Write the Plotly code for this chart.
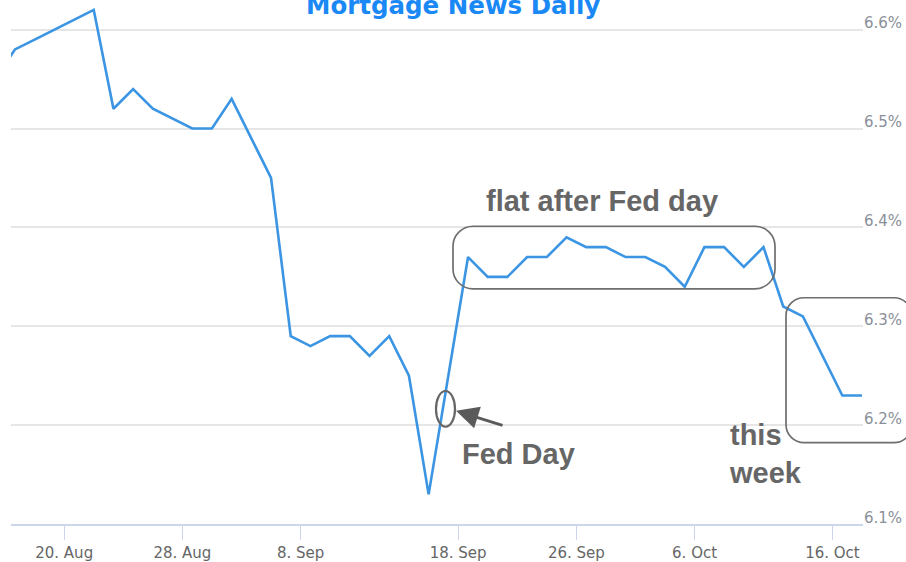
import pandas as pd
import plotly.graph_objects as go

# 30-year fixed rate, daily index (business days only)
dates = [
    "2025-08-14", "2025-08-15", "2025-08-18", "2025-08-19", "2025-08-20",
    "2025-08-21", "2025-08-22", "2025-08-25", "2025-08-26", "2025-08-27",
    "2025-08-28", "2025-08-29", "2025-09-02", "2025-09-03", "2025-09-04",
    "2025-09-05", "2025-09-08", "2025-09-09", "2025-09-10", "2025-09-11",
    "2025-09-12", "2025-09-15", "2025-09-16", "2025-09-17", "2025-09-18",
    "2025-09-19", "2025-09-22", "2025-09-23", "2025-09-24", "2025-09-25",
    "2025-09-26", "2025-09-29", "2025-09-30", "2025-10-01", "2025-10-02",
    "2025-10-03", "2025-10-06", "2025-10-07", "2025-10-08", "2025-10-09",
    "2025-10-10", "2025-10-14", "2025-10-15", "2025-10-16", "2025-10-17",
]
rates = [
    6.55, 6.58, 6.59, 6.60, 6.61,
    6.62, 6.52, 6.54, 6.52, 6.51,
    6.50, 6.50, 6.53, 6.49, 6.45,
    6.29, 6.28, 6.29, 6.29, 6.27,
    6.29, 6.25, 6.13, 6.25, 6.37,
    6.35, 6.35, 6.37, 6.37, 6.39,
    6.38, 6.38, 6.37, 6.37, 6.36,
    6.34, 6.38, 6.38, 6.36, 6.38,
    6.32, 6.31, 6.27, 6.23, 6.23,
]
holidays = ["2025-09-01", "2025-10-13"]

tick_dates = ["2025-08-20", "2025-08-28", "2025-09-08", "2025-09-18",
              "2025-09-26", "2025-10-06", "2025-10-16"]
tick_labels = ["20. Aug", "28. Aug", "8. Sep", "18. Sep", "26. Sep", "6. Oct", "16. Oct"]
y_ticks = [6.1, 6.2, 6.3, 6.4, 6.5, 6.6]
y_labels = ["6.1%", "6.2%", "6.3%", "6.4%", "6.5%", "6.6%"]

W, H = 906, 562
M_L, M_R, M_T, M_B = 11, 43, 0, 34
PW, PH = W - M_L - M_R, H - M_T - M_B

# each day's reading is stamped at midday
x = pd.to_datetime(dates) + pd.Timedelta(hours=12)


def px(v):
    return (v - M_L) / PW


def py(v):
    return (M_T + PH - v) / PH


def rounded_box(x0, y0, x1, y1, r):
    # rounded rectangle path in paper coordinates (pixel inputs)
    k = 0.5523 * r
    pts = [
        f"M{px(x0 + r)},{py(y0)}",
        f"L{px(x1 - r)},{py(y0)}",
        f"C{px(x1 - r + k)},{py(y0)} {px(x1)},{py(y0 + r - k)} {px(x1)},{py(y0 + r)}",
        f"L{px(x1)},{py(y1 - r)}",
        f"C{px(x1)},{py(y1 - r + k)} {px(x1 - r + k)},{py(y1)} {px(x1 - r)},{py(y1)}",
        f"L{px(x0 + r)},{py(y1)}",
        f"C{px(x0 + r - k)},{py(y1)} {px(x0)},{py(y1 - r + k)} {px(x0)},{py(y1 - r)}",
        f"L{px(x0)},{py(y0 + r)}",
        f"C{px(x0)},{py(y0 + r - k)} {px(x0 + r - k)},{py(y0)} {px(x0 + r)},{py(y0)}",
        "Z",
    ]
    return " ".join(pts)


fig = go.Figure()
fig.add_trace(go.Scatter(
    x=x, y=rates, mode="lines",
    line=dict(color="#3b95e3", width=2.6),
    hoverinfo="x+y",
))

box_style = dict(color="#6e6e6e", width=1.7)
shapes = [
    dict(type="path", xref="paper", yref="paper",
         path=rounded_box(453, 228, 775, 291, 20), line=box_style),
    dict(type="path", xref="paper", yref="paper",
         path=rounded_box(786, 300, 912, 446, 18), line=box_style),
    dict(type="circle", xref="paper", yref="paper",
         x0=px(436), x1=px(455), y0=py(394), y1=py(430),
         line=dict(color="#666666", width=2.2)),
]

note_font = dict(family="Liberation Sans, Arial, sans-serif", size=29, color="#666666")
annotations = [
    dict(text="<b>Mortgage News Daily</b>", xref="paper", yref="paper",
         x=px(453), y=py(22), xanchor="center", yanchor="bottom", showarrow=False,
         font=dict(family="DejaVu Sans, sans-serif", size=24.5, color="#1a88f5")),
    dict(text="<b>flat after Fed day</b>", xref="paper", yref="paper",
         x=px(484), y=py(203), xanchor="left", yanchor="middle", showarrow=False,
         font=note_font),
    dict(text="<b>Fed Day</b>", xref="paper", yref="paper",
         x=px(460), y=py(457), xanchor="left", yanchor="middle", showarrow=False,
         font=note_font),
    dict(text="<b>this<br>week</b>", xref="paper", yref="paper",
         x=px(727), y=py(457), xanchor="left", yanchor="middle", align="left",
         showarrow=False, font=note_font),
    dict(text="", xref="paper", yref="paper", x=px(456), y=py(414),
         ax=48, ay=15, showarrow=True, arrowhead=2, arrowsize=1.5,
         arrowwidth=3, arrowcolor="#5a5a5a"),
]

fig.update_layout(
    width=W, height=H,
    margin=dict(l=M_L, r=M_R, t=M_T, b=M_B, pad=0),
    plot_bgcolor="white", paper_bgcolor="white",
    showlegend=False,
    shapes=shapes,
    annotations=annotations,
    xaxis=dict(
        type="date",
        range=["2025-08-15 07:12", "2025-10-17 13:12"],
        rangebreaks=[dict(bounds=["sat", "mon"]), dict(values=holidays)],
        tickvals=tick_dates, ticktext=tick_labels,
        showgrid=False, zeroline=False,
        showline=True, linecolor="#ccd6eb", linewidth=1.5,
        ticks="outside", ticklen=14, tickwidth=1.4, tickcolor="#ccd6eb",
        tickfont=dict(family="DejaVu Sans, sans-serif", size=15, color="#666666"),
    ),
    yaxis=dict(
        side="right",
        range=[6.1, 6.63],
        tickvals=y_ticks, ticktext=y_labels,
        ticklabelposition="outside top",
        ticklabelshift=4,
        showgrid=True, gridcolor="#e6e6e6", gridwidth=1.5,
        zeroline=False, showline=False, ticks="",
        tickfont=dict(family="DejaVu Sans, sans-serif", size=15, color="#8a8f99"),
    ),
)

fig.write_html("out.html")
